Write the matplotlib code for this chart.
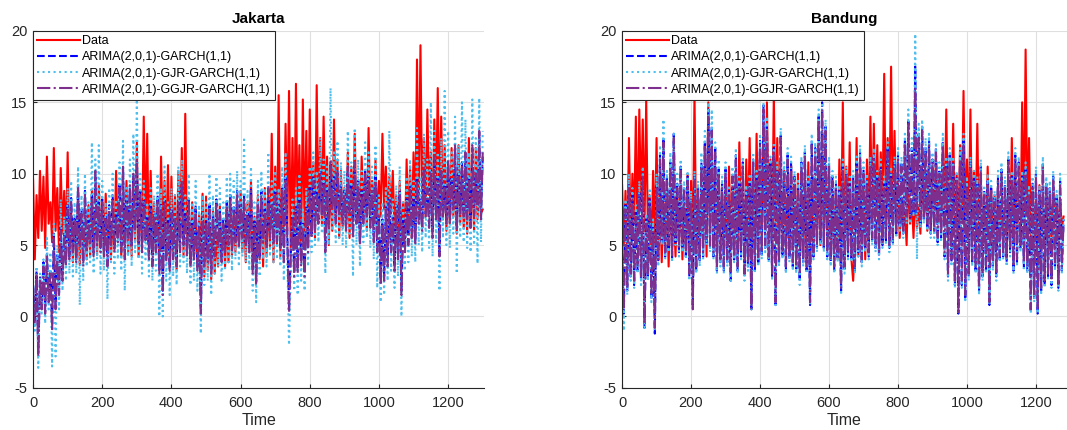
import numpy as np
import matplotlib.pyplot as plt

plt.rcParams['font.family'] = ['Liberation Sans', 'DejaVu Sans']
plt.rcParams['axes.unicode_minus'] = False

# series sampled every 5 time steps ----------------------------------------
step = 5

jk_data = [
    9.6, 4.0, 8.5, 5.5, 10.2, 6.0, 9.8, 4.8, 11.2, 6.5, 8.0, 5.2, 11.8, 6.0, 9.0, 4.5, 10.4, 5.8, 8.8, 5.0,
    11.5, 4.2, 7.5, 3.8, 6.8, 4.5, 8.2, 3.6, 7.2, 4.8, 6.5, 4.0, 7.8, 4.2, 8.8, 5.0, 7.0, 4.3, 9.2, 5.5,
    8.0, 4.5, 8.6, 5.2, 7.0, 4.0, 6.8, 4.8, 10.2, 5.5, 7.5, 4.2, 8.2, 5.0, 9.5, 4.5, 7.8, 4.2, 9.0, 5.2,
    12.2, 4.2, 8.0, 5.5, 14.0, 6.2, 12.8, 4.5, 10.2, 5.0, 8.0, 4.6, 7.5, 3.8, 11.2, 5.0, 9.5, 4.8, 10.6, 4.0,
    9.8, 4.5, 8.5, 3.2, 10.2, 5.5, 11.8, 4.2, 14.2, 5.0, 7.8, 3.5, 8.0, 4.2, 6.8, 3.5, 7.2, 4.0, 8.6, 2.8,
    8.4, 3.2, 6.5, 2.6, 7.5, 3.0, 5.8, 3.5, 7.8, 4.0, 6.2, 3.5, 7.0, 3.8, 8.5, 4.2, 7.2, 4.5, 8.0, 5.0,
    8.8, 4.5, 7.5, 3.8, 8.0, 4.5, 9.5, 3.5, 7.0, 3.2, 8.5, 4.0, 7.8, 3.5, 9.0, 4.2, 8.5, 4.8, 12.8, 3.8,
    10.5, 5.0, 15.5, 4.2, 8.8, 5.5, 13.5, 6.0, 15.8, 4.5, 12.5, 5.2, 16.3, 6.5, 12.0, 4.8, 15.2, 6.0, 13.0, 5.5,
    14.5, 6.0, 10.8, 5.5, 16.2, 7.0, 12.5, 6.5, 14.0, 7.2, 11.2, 5.0, 10.5, 6.0, 13.8, 6.8, 11.0, 5.5, 10.2, 6.2,
    9.0, 6.2, 11.5, 5.5, 10.5, 7.0, 12.8, 6.5, 9.5, 5.8, 11.2, 7.0, 10.0, 6.0, 13.2, 6.8, 9.5, 7.2, 11.0, 6.5,
    9.5, 7.0, 12.8, 7.5, 10.5, 6.5, 9.8, 7.2, 10.2, 6.0, 8.5, 5.5, 9.5, 5.0, 8.0, 5.2, 11.0, 6.0, 10.5, 5.5,
    11.5, 6.2, 18.0, 7.5, 19.0, 8.0, 12.5, 7.0, 14.5, 8.5, 11.5, 6.5, 13.8, 7.8, 16.0, 7.5, 14.0, 6.8, 12.0, 6.0,
    10.5, 6.5, 11.8, 7.0, 9.5, 5.8, 12.0, 6.5, 10.8, 6.2, 9.2, 5.8, 12.5, 6.5, 10.0, 6.0, 11.8, 6.8, 9.5, 7.2,
    7.5]

jk_garch = [
    2.2, -0.3, 3.2, -2.5, 2.8, 0.8, 3.8, 0.5, 4.5, 1.2, 3.3, -0.6, 5.8, 0.8, 4.3, 1.8, 6.3, 2.8, 5.8, 3.8,
    7.8, 4.2, 8.3, 4.8, 7.0, 4.0, 9.2, 5.0, 7.5, 3.8, 8.8, 4.8, 6.8, 5.2, 8.5, 4.5, 10.0, 5.2, 8.0, 4.8,
    8.2, 4.5, 7.0, 3.8, 7.8, 5.2, 8.5, 4.8, 7.3, 5.5, 9.2, 4.8, 10.3, 4.3, 8.3, 5.8, 9.0, 5.0, 9.8, 6.2,
    10.8, 5.2, 8.8, 4.8, 8.2, 5.5, 7.0, 4.3, 7.8, 3.8, 7.3, 4.8, 8.5, 3.3, 7.8, 1.8, 8.2, 4.0, 6.8, 3.5,
    7.5, 4.2, 7.0, 3.8, 8.2, 4.8, 9.2, 5.2, 7.3, 4.5, 8.2, 3.8, 6.8, 4.2, 7.8, 3.5, 6.5, 0.5, 7.2, 3.8,
    6.8, 4.0, 7.8, 3.3, 7.0, 4.5, 8.2, 5.0, 7.5, 4.0, 6.8, 4.8, 8.0, 5.2, 8.5, 4.8, 7.8, 5.5, 8.8, 5.0,
    8.0, 5.8, 8.5, 5.2, 7.3, 4.8, 9.0, 3.3, 6.8, 2.5, 8.0, 4.2, 8.8, 5.5, 7.5, 5.0, 9.2, 5.8, 8.0, 5.2,
    8.8, 5.5, 7.8, 5.0, 9.0, 4.0, 9.8, 5.8, 0.6, 4.5, 7.0, 3.0, 7.8, 3.3, 8.2, 3.8, 6.5, 3.0, 7.8, 4.8,
    9.0, 5.8, 9.8, 6.2, 8.8, 6.8, 10.2, 7.2, 9.5, 4.8, 9.0, 6.5, 10.8, 7.8, 9.8, 6.8, 10.0, 7.2, 9.2, 6.8,
    8.8, 6.2, 10.2, 7.5, 9.2, 5.8, 10.5, 6.8, 9.5, 5.2, 8.8, 6.8, 10.2, 7.2, 9.8, 6.5, 9.0, 5.5, 9.8, 4.8,
    7.2, 2.5, 6.8, 2.8, 7.8, 3.8, 8.2, 4.8, 7.0, 3.5, 7.8, 4.2, 8.8, 1.8, 6.8, 4.8, 8.2, 5.2, 9.2, 5.8,
    8.2, 5.2, 9.8, 6.8, 8.2, 6.2, 10.2, 7.2, 9.2, 6.5, 10.2, 5.8, 11.0, 7.0, 9.8, 4.5, 10.0, 7.2, 9.2, 6.8,
    10.8, 6.8, 9.8, 7.8, 11.8, 6.2, 10.0, 7.5, 10.8, 7.2, 11.2, 7.0, 9.8, 6.5, 11.8, 7.2, 10.2, 7.8, 12.8, 7.0,
    11.2]

jk_gjr = [
    2.5, -1.0, 3.5, -3.6, 3.0, 0.2, 4.0, -0.5, 5.5, 0.5, 4.5, -3.5, 6.5, -2.8, 5.0, 0.5, 8.2, 1.8, 7.0, 2.5,
    9.0, 3.0, 9.5, 2.8, 8.0, 3.0, 10.5, 0.8, 8.5, 2.5, 10.0, 3.5, 8.0, 3.8, 12.2, 3.0, 11.0, 4.0, 12.0, 3.0,
    9.5, 3.2, 8.0, 1.2, 9.0, 3.8, 10.0, 3.0, 8.2, 4.0, 10.8, 3.2, 12.3, 1.8, 9.0, 4.2, 11.0, 3.5, 12.8, 4.5,
    15.2, 4.0, 10.0, 3.0, 9.5, 4.0, 8.0, 2.8, 9.0, 2.5, 8.5, 3.2, 10.0, 0.0, 9.0, 0.0, 10.5, 2.5, 8.0, 1.5,
    9.0, 2.8, 8.5, 2.2, 10.5, 3.5, 11.0, 3.8, 8.5, 3.0, 10.0, 2.2, 8.0, 2.5, 9.5, 1.8, 7.8, -1.2, 8.5, 2.2,
    8.0, 2.5, 10.0, 1.5, 8.5, 3.0, 9.8, 3.5, 9.0, 2.5, 8.0, 3.2, 9.8, 3.8, 10.0, 3.2, 9.5, 4.0, 10.2, 3.5,
    9.5, 4.2, 12.4, 3.8, 8.8, 3.2, 10.5, 1.8, 8.0, 1.0, 9.5, 2.8, 10.2, 4.0, 9.0, 3.5, 11.5, 4.2, 9.5, 3.8,
    10.2, 4.0, 9.0, 3.5, 10.5, 2.5, 11.5, 4.2, -2.0, 3.0, 8.2, 1.8, 9.0, 1.5, 10.0, 2.5, 7.5, 1.8, 9.0, 3.5,
    10.5, 4.5, 11.5, 5.0, 10.2, 5.2, 12.5, 5.8, 11.0, 3.0, 10.5, 5.0, 16.0, 6.0, 11.5, 5.2, 12.3, 5.5, 10.8, 5.0,
    10.2, 4.8, 13.0, 5.8, 10.8, 2.8, 13.2, 5.0, 11.0, 3.5, 10.2, 5.2, 12.2, 5.5, 11.5, 4.8, 10.5, 4.0, 12.0, 2.0,
    8.5, 1.0, 8.0, 1.5, 9.0, 2.5, 13.0, 3.2, 8.2, 2.0, 9.2, 2.8, 10.5, 0.0, 8.0, 3.2, 9.8, 3.8, 11.0, 4.2,
    9.5, 3.8, 13.2, 5.0, 9.8, 4.5, 12.8, 5.5, 11.0, 4.8, 15.0, 4.2, 13.0, 5.2, 11.5, 1.8, 12.5, 5.5, 15.8, 5.0,
    13.0, 4.8, 11.5, 5.8, 14.0, 3.0, 12.0, 5.5, 15.0, 5.2, 13.8, 4.8, 11.5, 4.5, 15.2, 5.0, 12.5, 3.7, 15.3, 5.2,
    13.0]

jk_ggjr = [
    2.0, -0.5, 3.0, -2.8, 2.5, 0.5, 3.5, 0.2, 4.2, 1.0, 3.0, -1.0, 5.5, 0.5, 4.0, 1.5, 6.0, 2.5, 5.5, 3.5,
    7.5, 4.0, 8.0, 4.5, 6.8, 3.8, 9.0, 4.8, 7.2, 3.5, 8.5, 4.5, 6.5, 5.0, 8.2, 4.2, 10.2, 5.0, 7.8, 4.5,
    8.0, 4.2, 6.8, 3.5, 7.5, 5.0, 8.2, 4.5, 7.0, 5.2, 9.0, 4.5, 10.5, 4.0, 8.0, 5.5, 9.2, 4.8, 10.0, 6.0,
    11.0, 5.0, 8.5, 4.5, 8.0, 5.2, 6.8, 4.0, 7.5, 3.5, 7.0, 4.5, 8.2, 3.0, 7.5, 1.5, 8.0, 3.8, 6.5, 3.2,
    7.2, 4.0, 6.8, 3.5, 8.0, 4.5, 9.5, 5.0, 7.0, 4.2, 8.0, 3.5, 6.5, 4.0, 7.5, 3.2, 6.2, 0.2, 7.0, 3.5,
    6.5, 3.8, 7.5, 3.0, 6.8, 4.2, 8.0, 4.8, 7.2, 3.8, 6.5, 4.5, 7.8, 5.0, 8.2, 4.5, 7.5, 5.2, 8.5, 4.8,
    7.8, 5.5, 8.2, 5.0, 7.0, 4.5, 8.8, 3.0, 6.5, 2.2, 7.8, 4.0, 8.5, 5.2, 7.2, 4.8, 9.0, 5.5, 7.8, 5.0,
    8.5, 5.2, 7.5, 4.8, 8.8, 3.8, 9.5, 5.5, 0.3, 4.2, 6.8, 2.8, 7.5, 3.0, 8.0, 3.5, 6.2, 2.8, 7.5, 4.5,
    8.8, 5.5, 9.5, 6.0, 8.5, 6.5, 10.0, 7.0, 9.2, 4.5, 8.8, 6.2, 11.0, 7.5, 9.5, 6.5, 10.2, 7.0, 9.0, 6.5,
    8.5, 6.0, 10.5, 7.2, 9.0, 5.5, 10.8, 6.5, 9.2, 5.0, 8.5, 6.5, 10.0, 7.0, 9.5, 6.2, 8.8, 5.2, 9.5, 4.5,
    7.0, 2.2, 6.5, 2.5, 7.5, 3.5, 8.0, 4.5, 6.8, 3.2, 7.5, 4.0, 8.5, 1.5, 6.5, 4.5, 8.0, 5.0, 9.0, 5.5,
    8.0, 5.0, 9.5, 6.5, 8.0, 6.0, 10.5, 7.0, 9.0, 6.2, 10.0, 5.5, 11.2, 6.8, 9.5, 4.2, 10.2, 7.0, 9.0, 6.5,
    11.0, 6.5, 9.5, 7.5, 12.0, 6.0, 9.8, 7.2, 10.5, 7.0, 11.5, 6.8, 9.5, 6.2, 12.0, 7.0, 10.0, 7.5, 13.0, 6.8,
    11.5]

bd_data = [
    9.2, 5.0, 8.8, 4.5, 12.5, 5.5, 10.0, 6.5, 14.0, 5.2, 14.5, 7.5, 13.8, 6.0, 15.2, 5.5, 8.5, 4.5, 10.2, 5.2,
    12.5, 4.5, 9.0, 3.8, 8.0, 4.5, 9.5, 3.5, 8.8, 5.0, 7.5, 4.2, 9.0, 5.5, 8.2, 4.0, 7.5, 4.8, 10.0, 5.0,
    9.5, 4.5, 15.5, 5.0, 8.2, 4.8, 9.0, 5.2, 10.5, 4.2, 15.0, 5.5, 12.0, 6.0, 9.5, 4.5, 10.2, 5.8, 8.5, 5.0,
    9.2, 4.8, 10.5, 5.5, 8.8, 4.0, 10.2, 5.0, 12.2, 5.5, 9.0, 4.5, 11.0, 6.0, 12.5, 5.2, 10.0, 4.8, 12.8, 6.2,
    11.5, 5.5, 13.0, 6.0, 15.0, 6.5, 11.0, 5.2, 15.5, 6.0, 12.5, 5.8, 9.0, 4.5, 10.2, 5.0, 8.5, 4.2, 10.5, 5.5,
    9.0, 4.5, 10.0, 5.2, 8.5, 3.8, 9.2, 4.5, 10.8, 5.0, 8.8, 4.2, 9.5, 5.5, 10.2, 5.0, 11.5, 6.0, 10.0, 5.5,
    9.2, 5.0, 8.5, 4.2, 9.0, 4.0, 11.0, 5.5, 15.0, 4.5, 10.5, 5.8, 12.2, 4.0, 2.5, 5.2, 12.5, 4.2, 11.0, 3.8,
    9.5, 4.0, 11.0, 5.5, 14.0, 6.5, 13.5, 7.0, 12.0, 5.5, 11.5, 7.5, 17.0, 6.5, 12.5, 8.0, 17.5, 7.0, 13.0, 6.5,
    9.5, 5.5, 8.0, 6.0, 7.5, 5.0, 10.0, 6.5, 8.2, 5.5, 9.0, 6.2, 7.8, 5.8, 10.5, 7.0, 9.0, 6.0, 10.2, 6.8,
    9.5, 6.5, 11.2, 7.0, 10.0, 6.0, 11.5, 7.2, 14.5, 6.8, 10.5, 7.5, 13.5, 6.0, 10.0, 5.5, 12.0, 7.0, 15.8, 6.5,
    11.0, 6.0, 14.5, 5.5, 10.2, 6.2, 13.5, 5.0, 9.5, 6.0, 8.0, 5.5, 10.5, 6.2, 9.0, 5.0, 8.5, 4.8, 9.0, 5.5,
    8.0, 5.2, 7.5, 4.5, 9.0, 5.0, 12.5, 5.5, 10.2, 6.0, 8.8, 5.2, 15.0, 6.5, 18.7, 7.0, 12.5, 5.5, 9.0, 5.0,
    8.5, 5.0, 9.2, 5.5, 8.0, 4.8, 9.0, 5.8, 8.2, 5.2, 9.5, 6.0, 8.5, 5.5, 8.0, 6.2, 7.0]

bd_garch = [
    5.2, 0.2, 7.8, 1.8, 9.3, 2.8, 8.5, 2.2, 7.3, 3.2, 8.8, 2.5, 10.0, -0.8, 6.8, 2.8, 8.3, 1.2, 6.3, -1.2,
    9.3, 3.8, 11.3, 5.2, 12.5, 4.2, 9.8, 4.8, 10.8, 4.0, 12.8, 5.2, 9.3, 4.5, 10.5, 4.8, 9.0, 4.2, 9.8, 2.8,
    8.3, 0.8, 9.8, 3.2, 9.0, 3.8, 10.8, 4.2, 12.3, 5.2, 14.5, 4.8, 13.3, 4.2, 11.8, 3.2, 10.3, 3.8, 9.3, 3.2,
    10.3, 3.8, 8.8, 2.5, 10.0, 4.0, 11.3, 3.2, 9.3, 4.2, 10.8, 2.8, 8.8, 3.5, 9.3, 0.5, 11.0, 3.2, 9.8, 3.8,
    12.3, 4.2, 14.8, 4.8, 13.3, 4.0, 10.8, 2.8, 11.8, 0.8, 10.3, 3.8, 12.8, 4.2, 10.3, 3.2, 11.3, 4.0, 10.8, 3.5,
    9.8, 3.2, 9.0, 2.5, 10.8, 3.8, 11.5, 3.2, 9.3, 0.8, 12.3, 4.2, 11.8, 4.8, 14.0, 5.2, 15.0, 4.8, 13.3, 4.2,
    10.8, 3.8, 9.8, 3.2, 9.3, 4.0, 8.8, 1.8, 10.5, 3.2, 10.0, 4.2, 9.3, 4.0, 9.8, 3.2, 10.8, 4.5, 11.5, 3.8,
    10.3, 4.8, 9.5, 4.2, 10.8, 5.2, 11.3, 4.8, 9.8, 4.2, 10.5, 5.0, 9.3, 5.2, 11.8, 4.8, 10.0, 5.2, 10.8, 5.8,
    11.3, 6.2, 10.8, 5.8, 12.3, 6.8, 13.8, 6.8, 11.8, 7.2, 17.5, 7.2, 12.8, 6.5, 13.3, 6.8, 11.8, 6.2, 12.3, 5.8,
    11.0, 5.8, 11.8, 5.2, 10.3, 5.5, 12.3, 4.2, 10.8, 2.8, 11.3, 3.8, 10.8, 2.2, 9.8, 0.2, 11.3, 2.2, 12.3, 1.2,
    9.3, 2.8, 10.8, 3.8, 9.8, 3.2, 9.3, 1.8, 10.5, 2.8, 8.8, 3.2, 9.5, 0.8, 9.0, 3.5, 8.3, 2.8, 9.8, 4.0,
    10.3, 4.2, 9.3, 3.8, 11.0, 4.5, 9.8, 3.2, 11.3, 3.8, 10.8, 4.8, 9.8, 3.5, 10.3, 3.2, 8.8, 0.3, 9.3, 1.2,
    10.0, 0.2, 8.8, 1.8, 10.8, 2.2, 9.3, 2.8, 9.0, 2.2, 9.8, 3.5, 8.3, 2.0, 9.5, 3.2, 6.8]

bd_gjr = [
    5.5, -1.0, 8.2, 1.5, 10.0, 2.5, 9.0, 2.0, 7.8, 3.0, 9.5, 2.2, 10.5, -0.8, 7.2, 2.5, 9.0, 1.0, 6.8, -1.0,
    10.0, 3.5, 12.0, 5.0, 13.8, 4.0, 10.2, 4.5, 11.5, 3.8, 12.8, 5.0, 10.0, 4.2, 11.0, 4.5, 9.5, 4.0, 10.2, 2.5,
    8.8, 0.8, 10.2, 3.0, 9.5, 3.5, 11.5, 4.0, 13.0, 5.0, 15.0, 4.5, 14.5, 4.0, 12.2, 3.0, 11.0, 3.5, 9.8, 3.0,
    10.8, 3.5, 9.2, 2.5, 10.5, 3.8, 11.8, 3.0, 9.8, 4.0, 11.2, 2.5, 9.2, 3.2, 10.0, 0.5, 11.5, 3.0, 10.2, 3.5,
    12.8, 4.0, 15.0, 4.5, 14.0, 3.8, 11.2, 2.5, 12.2, 0.8, 10.8, 3.5, 13.2, 4.0, 10.8, 3.0, 11.8, 3.8, 11.2, 3.2,
    10.2, 3.0, 9.5, 2.2, 11.2, 3.5, 12.0, 3.0, 9.8, 0.8, 12.8, 4.0, 12.2, 4.5, 14.5, 5.0, 15.0, 4.5, 13.8, 4.0,
    11.2, 3.5, 10.2, 3.0, 9.8, 3.8, 9.2, 1.5, 11.0, 3.0, 10.5, 4.0, 9.8, 3.8, 10.2, 3.0, 11.2, 4.2, 12.0, 3.5,
    10.8, 4.5, 10.0, 4.0, 11.2, 5.0, 11.8, 4.5, 10.2, 4.0, 11.0, 4.8, 9.8, 5.0, 12.2, 4.5, 10.5, 5.0, 11.2, 5.5,
    11.8, 6.0, 11.2, 5.5, 12.8, 6.5, 14.5, 6.5, 12.5, 7.0, 19.8, 4.0, 13.5, 6.2, 13.8, 6.5, 12.5, 6.0, 12.8, 5.5,
    11.5, 5.5, 12.2, 5.0, 10.8, 5.2, 12.8, 4.0, 11.2, 2.5, 11.8, 3.5, 11.2, 2.0, 10.2, 0.3, 11.8, 2.0, 12.8, 1.0,
    9.8, 2.5, 11.2, 3.5, 10.2, 3.0, 9.8, 1.5, 11.0, 2.5, 9.2, 3.0, 10.0, 0.8, 9.5, 3.2, 8.8, 2.5, 10.2, 3.8,
    10.8, 4.0, 9.8, 3.5, 11.5, 4.2, 10.2, 3.0, 11.8, 3.5, 11.2, 4.5, 10.2, 3.2, 10.8, 3.0, 9.2, 0.2, 9.8, 1.0,
    10.5, 0.2, 9.2, 1.5, 11.2, 2.0, 9.8, 2.5, 9.5, 2.0, 10.2, 3.2, 8.8, 1.8, 10.0, 3.0, 7.0]

bd_ggjr = [
    5.0, 0.5, 7.5, 2.0, 9.0, 3.0, 8.2, 2.5, 7.0, 3.5, 8.5, 2.8, 9.8, -0.5, 6.5, 3.0, 8.0, 1.5, 6.0, -0.8,
    9.0, 4.0, 11.0, 5.5, 12.2, 4.5, 9.5, 5.0, 10.5, 4.2, 12.5, 5.5, 9.0, 4.8, 10.2, 5.0, 8.8, 4.5, 9.5, 3.0,
    8.0, 0.5, 9.5, 3.5, 8.8, 4.0, 10.5, 4.5, 12.0, 5.5, 14.0, 5.0, 13.0, 4.5, 11.5, 3.5, 10.0, 4.0, 9.0, 3.5,
    10.0, 4.0, 8.5, 3.0, 9.8, 4.2, 11.0, 3.5, 9.0, 4.5, 10.5, 3.0, 8.5, 3.8, 9.0, 0.5, 10.8, 3.5, 9.5, 4.0,
    12.0, 4.5, 14.5, 5.0, 13.0, 4.2, 10.5, 3.0, 11.5, 1.0, 10.0, 4.0, 12.5, 4.5, 10.0, 3.5, 11.0, 4.2, 10.5, 3.8,
    9.5, 3.5, 8.8, 3.0, 10.5, 4.0, 11.2, 3.5, 9.0, 1.0, 12.0, 4.5, 11.5, 5.0, 13.8, 5.5, 14.5, 5.0, 13.0, 4.5,
    10.5, 4.0, 9.5, 3.5, 9.0, 4.2, 8.5, 2.0, 10.2, 3.5, 9.8, 4.5, 9.0, 4.2, 9.5, 3.5, 10.5, 4.8, 11.2, 4.0,
    10.0, 5.0, 9.2, 4.5, 10.5, 5.5, 11.0, 5.0, 9.5, 4.5, 10.2, 5.2, 9.0, 5.5, 11.5, 5.0, 9.8, 5.5, 10.5, 6.0,
    11.0, 6.5, 10.5, 6.0, 12.0, 7.0, 13.5, 7.0, 11.5, 7.5, 16.0, 7.5, 12.5, 6.8, 13.0, 7.0, 11.5, 6.5, 12.0, 6.0,
    10.8, 6.0, 11.5, 5.5, 10.0, 5.8, 12.0, 4.5, 10.5, 3.0, 11.0, 4.0, 10.5, 2.5, 9.5, 0.3, 11.0, 2.5, 12.0, 1.5,
    9.0, 3.0, 10.5, 4.0, 9.5, 3.5, 9.0, 2.0, 10.2, 3.0, 8.5, 3.5, 9.2, 1.0, 8.8, 3.8, 8.0, 3.0, 9.5, 4.2,
    10.0, 4.5, 9.0, 4.0, 10.8, 4.8, 9.5, 3.5, 11.0, 4.0, 10.5, 5.0, 9.5, 3.8, 10.0, 3.5, 8.5, 0.5, 9.0, 1.5,
    9.8, 0.5, 8.5, 2.0, 10.5, 2.5, 9.0, 3.0, 8.8, 2.5, 9.5, 3.8, 8.0, 2.2, 9.2, 3.5, 6.5]

titles = ["Jakarta", "Bandung"]
labels = ["Data", "ARIMA(2,0,1)-GARCH(1,1)",
          "ARIMA(2,0,1)-GJR-GARCH(1,1)", "ARIMA(2,0,1)-GGJR-GARCH(1,1)"]

# colores / estilos MATLAB
c_data = '#FF0000'
c_garch = '#0000FF'
c_gjr = '#4DBEEE'
c_ggjr = '#7E2F8E'
lw = 1.5

fig = plt.figure(figsize=(10.67, 4.30), dpi=100)
ax1 = fig.add_axes([0.031, 0.098, 0.4227, 0.830])
ax2 = fig.add_axes([0.583, 0.098, 0.417, 0.830])

panels = [(ax1, jk_data, jk_garch, jk_gjr, jk_ggjr, 1304),
          (ax2, bd_data, bd_garch, bd_gjr, bd_ggjr, 1290)]

for k, (ax, d, g, gj, gg, xmax) in enumerate(panels):
    t = np.arange(len(d)) * step
    ax.plot(t, d, '-', color=c_data, lw=lw, label=labels[0])
    ax.plot(t, g, '--', color=c_garch, lw=lw, label=labels[1])
    ax.plot(t, gj, ':', color=c_gjr, lw=lw, label=labels[2])
    ax.plot(t, gg, '-.', color=c_ggjr, lw=lw, label=labels[3])

    ax.set_xlim([0, xmax])
    ax.set_ylim([-5, 20])
    ax.set_xticks(np.arange(0, 1201, 200))
    ax.set_yticks(np.arange(-5, 21, 5))
    ax.grid(True, color='#dfdfdf', lw=0.8)
    ax.set_axisbelow(True)
    for s in ['top', 'right']:
        ax.spines[s].set_visible(False)
    for s in ['left', 'bottom']:
        ax.spines[s].set_color('#262626')
        ax.spines[s].set_linewidth(0.8)
    ax.tick_params(direction='in', length=3, labelsize=10.5,
                   colors='#262626')
    ax.tick_params(axis='x', pad=6)
    ax.tick_params(axis='y', pad=4)
    ax.set_xlabel('Time', fontsize=11.5, color='#262626', labelpad=2)
    ax.set_title(titles[k], fontsize=11, fontweight='bold', pad=6)

    leg = ax.legend(loc='upper left', fontsize=9, frameon=True,
                    fancybox=False, edgecolor='#262626', framealpha=1,
                    borderaxespad=0, handlelength=3.4, handletextpad=0.15,
                    labelspacing=0.33, borderpad=0.35)
    leg.get_frame().set_linewidth(0.8)

fig.savefig('out.png', dpi=100)
